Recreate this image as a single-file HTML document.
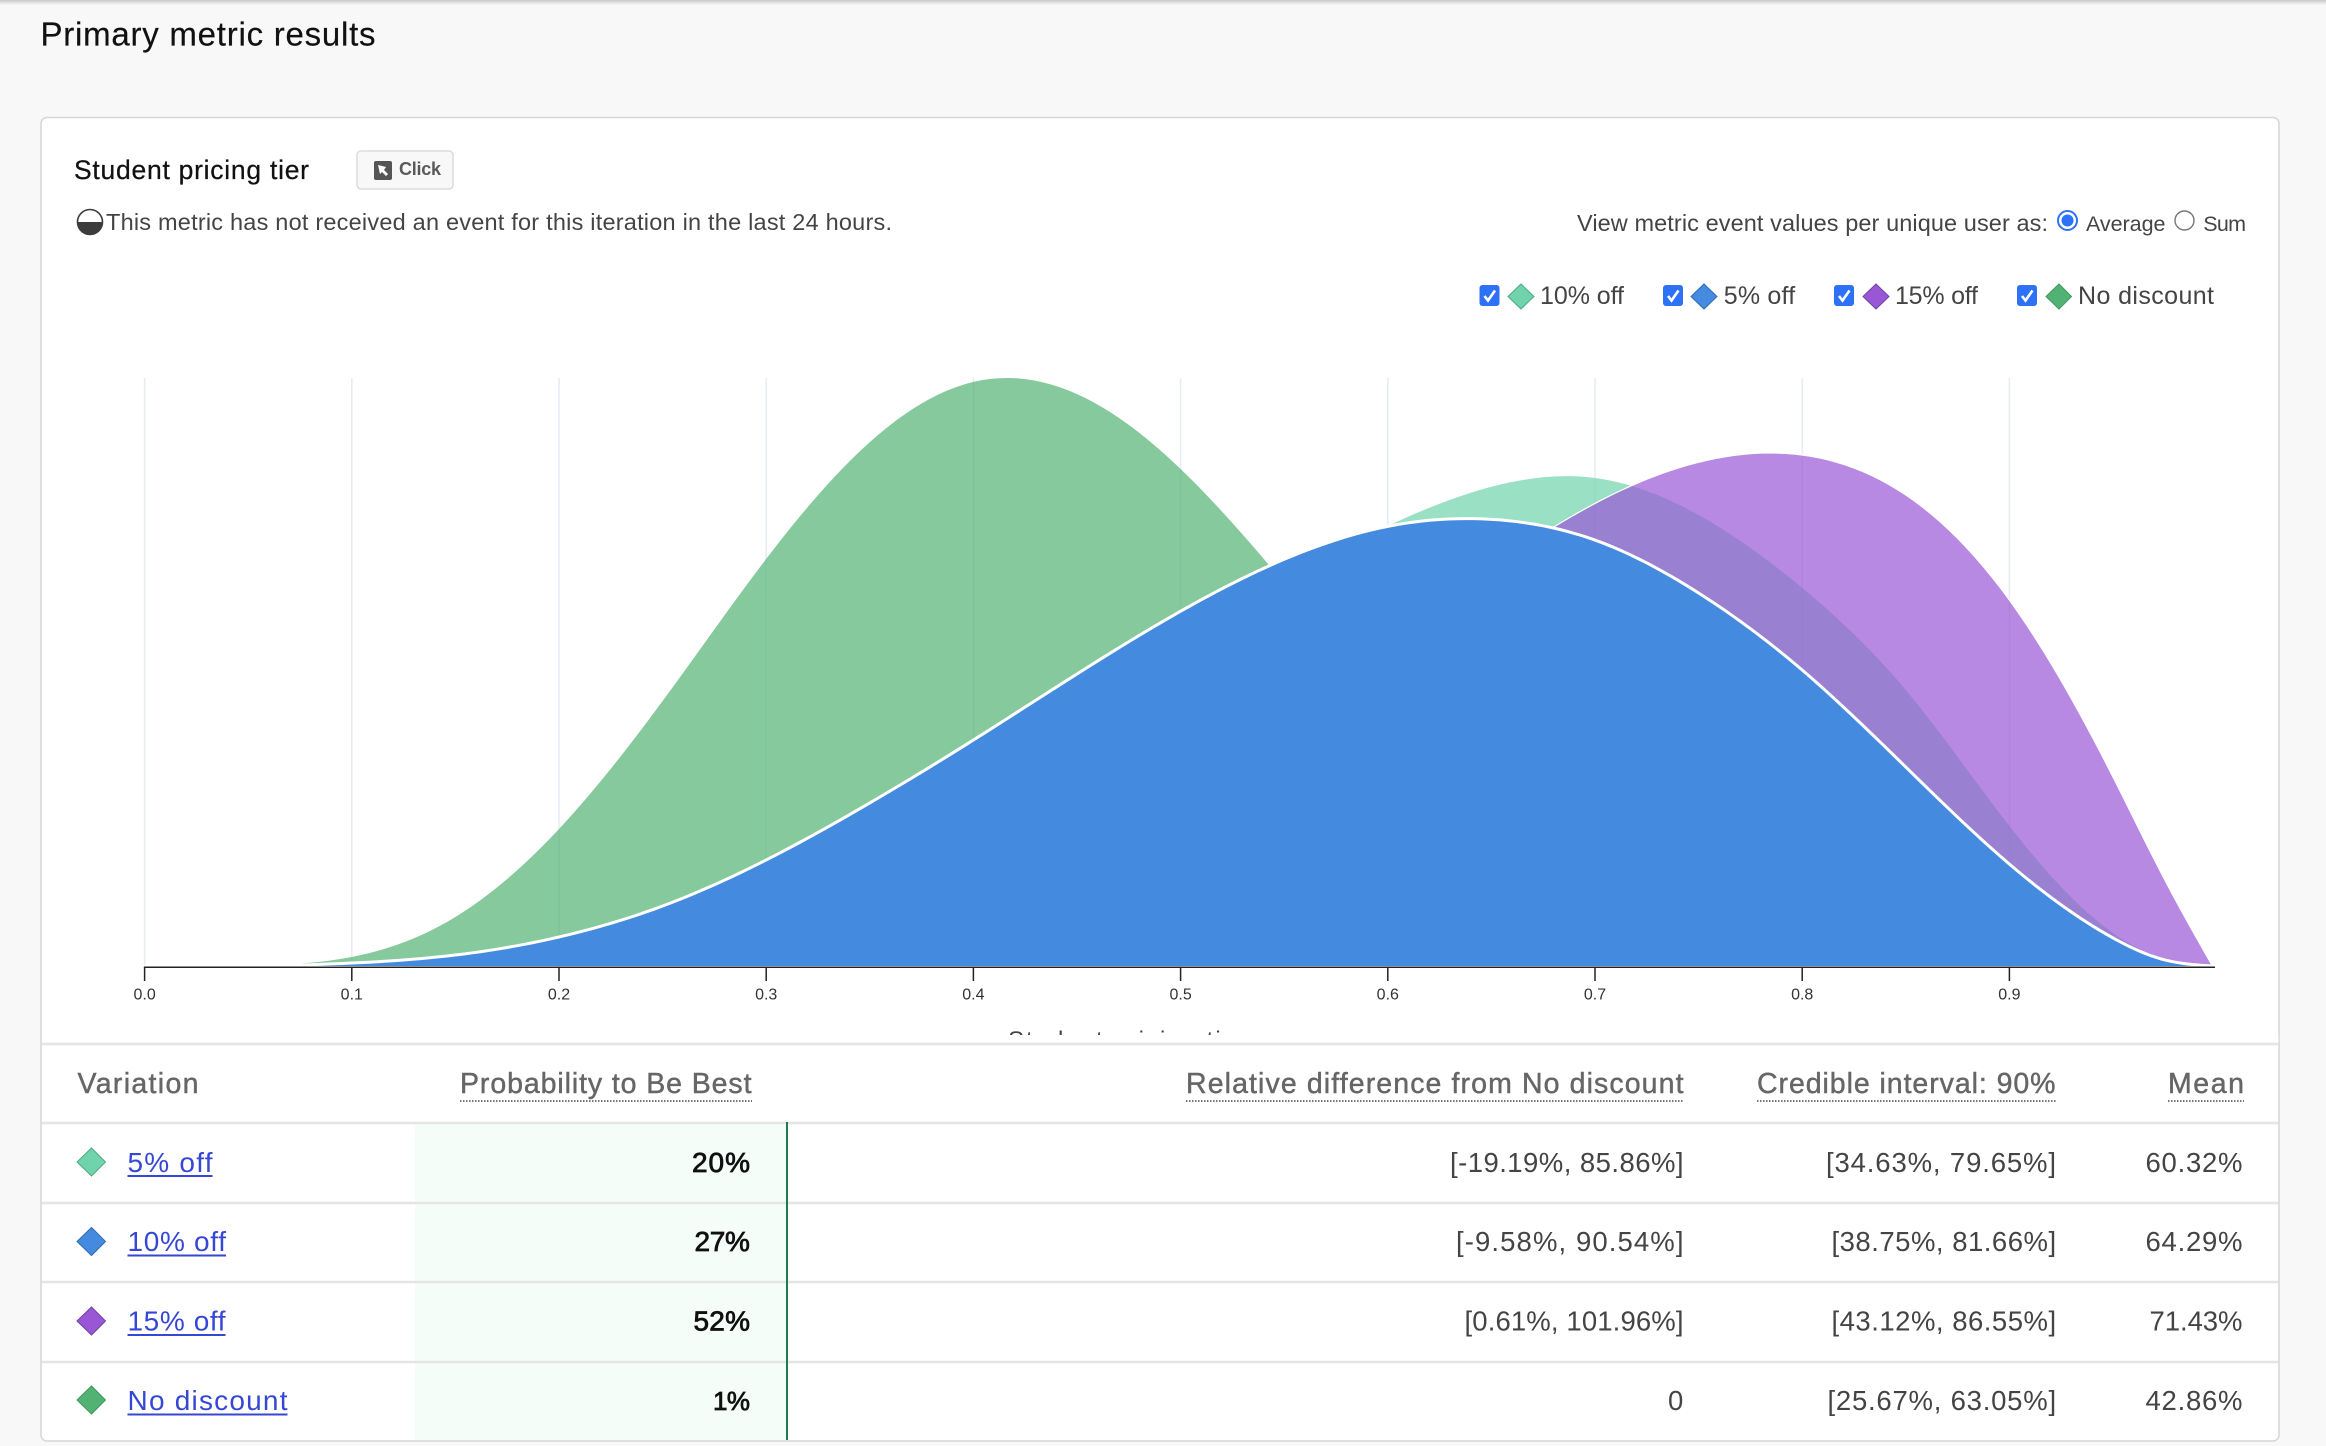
<!DOCTYPE html>
<html lang="en">
<head>
<meta charset="utf-8">
<title>Primary metric results</title>
<style>
html,body{margin:0;padding:0;background:#f8f8f8;width:2326px;height:1446px;overflow:hidden}
svg{display:block;font-family:"Liberation Sans",sans-serif}
.hd{font-size:28.5px;fill:#666;stroke:#666;stroke-width:.45}
.cell{font-size:27.5px;fill:#444}
.best{font-size:28px;fill:#111;stroke:#111;stroke-width:.8}
.link{font-size:28px;fill:#3647d6;cursor:pointer}
.leg{font-size:25px;fill:#444}
.msg{font-size:23.5px;fill:#444}
</style>
</head>
<body>
<svg id="page" xmlns="http://www.w3.org/2000/svg" width="2326" height="1446" viewBox="0 0 2326 1446">
  <defs>
    <linearGradient id="top-shade" x1="0" y1="0" x2="0" y2="1"><stop offset="0" stop-color="#c8c8c8"/><stop offset="1" stop-color="#f8f8f8"/></linearGradient>
    <clipPath id="axis-title-clip"><rect x="900" y="1000" width="500" height="35"/></clipPath>
  </defs>
  <rect width="2326" height="1446" fill="#f8f8f8"/>
  <rect width="2326" height="5" fill="url(#top-shade)"/>
  <text x="40.5" y="45.7" font-size="33" fill="#111" stroke="#111" stroke-width=".2" textLength="335">Primary metric results</text>

  <rect x="41" y="117.5" width="2238" height="1323.5" rx="6" fill="#fff" stroke="#d6d6d6" stroke-width="1.5"/>

  <text x="74" y="179" font-size="26.5" fill="#111" stroke="#111" stroke-width=".25" textLength="235">Student pricing tier</text>
  <g>
    <rect x="357" y="151" width="96" height="38" rx="4" fill="#f8f8f8" stroke="#dcdcdc" stroke-width="1.5"/>
    <rect x="374" y="161" width="18" height="19" rx="2" fill="#555"/>
    <polygon points="378,165 386,167 384,170 388,174 386,176 382,172 380,174" fill="#fff"/>
    <text x="399" y="175" font-size="18" font-weight="700" fill="#5a5a5a" textLength="42">Click</text>
  </g>
  <g>
    <circle cx="90" cy="222" r="12.5" fill="#fff" stroke="#3c3c3c" stroke-width="1.6"/>
    <path d="M77.5 222 H102.5 A12.5 12.5 0 0 1 77.5 222 Z" fill="#3c3c3c"/>
  </g>
  <text class="msg" x="106" y="230" textLength="786">This metric has not received an event for this iteration in the last 24 hours.</text>

  <text class="msg" x="1577" y="231" textLength="471">View metric event values per unique user as:</text>
  <g>
    <circle cx="2067.5" cy="220.5" r="9.5" fill="#fff" stroke="#2d72f6" stroke-width="2"/>
    <circle cx="2067.5" cy="220.5" r="6" fill="#2d72f6"/>
  </g>
  <text x="2086" y="231" font-size="21.5" fill="#444" textLength="79.5">Average</text>
  <circle cx="2184.5" cy="220.5" r="9.5" fill="#fff" stroke="#777" stroke-width="1.4"/>
  <text x="2203.3" y="231" font-size="21.5" fill="#444" textLength="42.7">Sum</text>

  <g>
    <g>
      <rect x="1479.500" y="285" width="20" height="21" rx="3" fill="#2d72f6"/>
      <path d="M1484.500 296 l3.500 4.500 l7 -10" fill="none" stroke="#fff" stroke-width="2.600"/>
      <polygon points="1521,284 1534,296.500 1521,309 1508,296.500" fill="#6fd3ac" stroke="#4fa988"/>
      <text class="leg" x="1540" y="304" textLength="84">10% off</text>
    </g>
    <g>
      <rect x="1663" y="285" width="20" height="21" rx="3" fill="#2d72f6"/>
      <path d="M1668 296 l3.500 4.500 l7 -10" fill="none" stroke="#fff" stroke-width="2.600"/>
      <polygon points="1704,284 1717,296.500 1704,309 1691,296.500" fill="#448ade" stroke="#2f6cb5"/>
      <text class="leg" x="1723.700" y="304" textLength="71.500">5% off</text>
    </g>
    <g>
      <rect x="1834" y="285" width="20" height="21" rx="3" fill="#2d72f6"/>
      <path d="M1839 296 l3.500 4.500 l7 -10" fill="none" stroke="#fff" stroke-width="2.600"/>
      <polygon points="1876,284 1889,296.500 1876,309 1863,296.500" fill="#9957d6" stroke="#7440a8"/>
      <text class="leg" x="1895" y="304" textLength="83">15% off</text>
    </g>
    <g>
      <rect x="2017" y="285" width="20" height="21" rx="3" fill="#2d72f6"/>
      <path d="M2022 296 l3.500 4.500 l7 -10" fill="none" stroke="#fff" stroke-width="2.600"/>
      <polygon points="2059,284 2071.500,296.500 2059,309 2046,296.500" fill="#52b274" stroke="#3f9a60"/>
      <text class="leg" x="2078" y="304" textLength="136">No discount</text>
    </g>
  </g>

  <g id="chart"></g>
  <text x="1008" y="1048" font-size="24" fill="#444" textLength="238" clip-path="url(#axis-title-clip)">Student pricing tier</text>

  <g>
    <rect x="42" y="1035" width="2236.500" height="8" fill="#fff"/>
    <rect x="415" y="1123" width="372" height="317" fill="#f5fdf9"/>
    <g stroke="#e5e5e5" stroke-width="2.500">
      <line x1="42" x2="2278" y1="1044" y2="1044"/>
      <line x1="42" x2="2278" y1="1123" y2="1123"/>
      <line x1="42" x2="2278" y1="1203" y2="1203"/>
      <line x1="42" x2="2278" y1="1282" y2="1282"/>
      <line x1="42" x2="2278" y1="1362" y2="1362"/>
    </g>
    <rect x="786" y="1122" width="2" height="318" fill="#1f7a4d"/>

    <text class="hd" x="77.500" y="1093" textLength="121">Variation</text>
    <g>
      <text class="hd" x="460" y="1093" textLength="291.500">Probability to Be Best</text>
      <line x1="460" x2="752" y1="1101" y2="1101" stroke="#777" stroke-width="2" stroke-dasharray="1.500 1.500"/>
    </g>
    <g>
      <text class="hd" x="1186" y="1093" textLength="497.500">Relative difference from No discount</text>
      <line x1="1186" x2="1684" y1="1101" y2="1101" stroke="#777" stroke-width="2" stroke-dasharray="1.500 1.500"/>
    </g>
    <g>
      <text class="hd" x="1757" y="1093" textLength="298.500">Credible interval: 90%</text>
      <line x1="1757" x2="2057" y1="1101" y2="1101" stroke="#777" stroke-width="2" stroke-dasharray="1.500 1.500"/>
    </g>
    <g>
      <text class="hd" x="2168" y="1093" textLength="76">Mean</text>
      <line x1="2168" x2="2244" y1="1101" y2="1101" stroke="#777" stroke-width="2" stroke-dasharray="1.500 1.500"/>
    </g>

    <g>
      <polygon points="91.500,1148 105.500,1162 91.500,1176 77,1162" fill="#6fd3ac" stroke="#4fa988"/>
      <text class="link" x="127.500" y="1172" textLength="85">5% off</text>
      <rect x="127.500" y="1175" width="85" height="2" fill="#3647d6"/>
      <text class="best" x="692" y="1172" textLength="58">20%</text>
      <text class="cell" x="1450" y="1172" textLength="233.500">[-19.19%, 85.86%]</text>
      <text class="cell" x="1826" y="1172" textLength="230">[34.63%, 79.65%]</text>
      <text class="cell" x="2145.500" y="1172" textLength="97">60.32%</text>
    </g>
    <g>
      <polygon points="91.500,1227.500 105.500,1241.500 91.500,1255.500 77,1241.500" fill="#448ade" stroke="#2f6cb5"/>
      <text class="link" x="127.500" y="1251" textLength="98.500">10% off</text>
      <rect x="127.500" y="1254.500" width="98.500" height="2" fill="#3647d6"/>
      <text class="best" x="694.500" y="1251" textLength="55.400">27%</text>
      <text class="cell" x="1456" y="1251" textLength="227.500">[-9.58%, 90.54%]</text>
      <text class="cell" x="1831.500" y="1251" textLength="224.600">[38.75%, 81.66%]</text>
      <text class="cell" x="2145.500" y="1251" textLength="97">64.29%</text>
    </g>
    <g>
      <polygon points="91.500,1307 105.500,1321 91.500,1335 77,1321" fill="#9957d6" stroke="#7440a8"/>
      <text class="link" x="127.500" y="1330.500" textLength="98">15% off</text>
      <rect x="127.500" y="1334" width="98" height="2" fill="#3647d6"/>
      <text class="best" x="693.500" y="1330.500" textLength="56.500">52%</text>
      <text class="cell" x="1464.500" y="1330.500" textLength="219">[0.61%, 101.96%]</text>
      <text class="cell" x="1831.500" y="1330.500" textLength="224.600">[43.12%, 86.55%]</text>
      <text class="cell" x="2149.500" y="1330.500" textLength="93">71.43%</text>
    </g>
    <g>
      <polygon points="91.500,1386 105.500,1400 91.500,1414 77,1400" fill="#52b274" stroke="#3f9a60"/>
      <text class="link" x="127.500" y="1410" textLength="160">No discount</text>
      <rect x="127.500" y="1413.500" width="160" height="2" fill="#3647d6"/>
      <text class="best" x="713" y="1410" style="font-size:26px" textLength="37">1%</text>
      <text class="cell" x="1668" y="1410" textLength="15.400">0</text>
      <text class="cell" x="1827.500" y="1410" textLength="228.600">[25.67%, 63.05%]</text>
      <text class="cell" x="2145.500" y="1410" textLength="97">42.86%</text>
    </g>
  </g>
</svg>

<script>
// Chart data: conversion rate grid and density values.
const conversionRates = [0, 0.05, 0.1, 0.15, 0.2, 0.25, 0.3, 0.35, 0.4, 0.45, 0.5, 0.55, 0.6, 0.65, 0.7, 0.75, 0.8, 0.85, 0.9, 0.95, 0.975, 0.998];
const noDiscountDensity = [0, 0.002, 0.046, 0.25, 0.699, 1.352, 2.077, 2.673, 2.98, 2.918, 2.536, 1.954, 1.327, 0.776, 0.383, 0.148, 0.046, 0.005, 0, 0, 0, 0];
const lightGreenDensity = [0, 0, 0.005, 0.031, 0.092, 0.214, 0.398, 0.638, 0.944, 1.276, 1.633, 1.964, 2.245, 2.445, 2.49, 2.301, 1.929, 1.408, 0.714, 0.168, 0.036, 0];
const purpleDensity = [0, 0, 0, 0.003, 0.015, 0.051, 0.128, 0.255, 0.434, 0.663, 0.944, 1.276, 1.65, 2.03, 2.36, 2.57, 2.607, 2.403, 1.867, 0.964, 0.439, 0];
const blueDensity = [0, 0, 0.015, 0.056, 0.148, 0.306, 0.541, 0.832, 1.153, 1.49, 1.81, 2.075, 2.243, 2.279, 2.173, 1.903, 1.51, 1.015, 0.52, 0.143, 0.031, 0];
const tickValues = [0, 0.1, 0.2, 0.3, 0.4, 0.5, 0.6, 0.7, 0.8, 0.9];
const tickLabels = ["0.0", "0.1", "0.2", "0.3", "0.4", "0.5", "0.6", "0.7", "0.8", "0.9"];

const NS = "http://www.w3.org/2000/svg";
const chart = document.getElementById("chart");
const baseY = 966;
const xScale = function (t) { return 144.6 + 2072 * t; };
const yScale = function (d) { return baseY - 196 * d; };

function make(tag, attrs) {
  const el = document.createElementNS(NS, tag);
  for (const k in attrs) el.setAttribute(k, attrs[k]);
  chart.appendChild(el);
  return el;
}

// Natural cubic spline through the read values, traced as a fine polyline.
function curve(values) {
  const xs = conversionRates, n = xs.length;
  const h = [], m = new Array(n).fill(0), c = new Array(n).fill(0), z = new Array(n).fill(0);
  for (let i = 0; i < n - 1; i++) h[i] = xs[i + 1] - xs[i];
  for (let i = 1; i < n - 1; i++) {
    const a = 3 * ((values[i + 1] - values[i]) / h[i] - (values[i] - values[i - 1]) / h[i - 1]);
    const l = 2 * (xs[i + 1] - xs[i - 1]) - h[i - 1] * c[i - 1];
    c[i] = h[i] / l;
    z[i] = (a - h[i - 1] * z[i - 1]) / l;
  }
  for (let j = n - 2; j >= 1; j--) m[j] = z[j] - c[j] * m[j + 1];
  let d = "M" + xScale(xs[0]).toFixed(2) + " " + yScale(values[0]).toFixed(2);
  for (let i = 0; i < n - 1; i++) {
    const b = (values[i + 1] - values[i]) / h[i] - h[i] * (m[i + 1] + 2 * m[i]) / 3;
    const e = (m[i + 1] - m[i]) / (3 * h[i]);
    for (let s = 1; s <= 12; s++) {
      const u = h[i] * s / 12;
      const v = Math.max(0, values[i] + b * u + m[i] * u * u + e * u * u * u);
      d += "L" + xScale(xs[i] + u).toFixed(2) + " " + yScale(v).toFixed(2);
    }
  }
  return d;
}

function drawSeries(name, values, fill, opacity, strokeWidth) {
  const line = curve(values);
  const area = make("path", { d: line + "L" + xScale(conversionRates[conversionRates.length - 1]) + " " + baseY + "L" + xScale(0) + " " + baseY + "Z", fill: fill, "fill-opacity": opacity });
  
  
  if (strokeWidth > 0) {
    const edge = make("path", { d: line, fill: "none", stroke: "#fff", "stroke-width": strokeWidth });
    
    
  }
}

tickValues.forEach(function (t) {
  const g = make("line", { x1: xScale(t), x2: xScale(t), y1: 378, y2: 967, stroke: "#e6ecf2", "stroke-width": 1.5 });
  
  
});

drawSeries("no-discount", noDiscountDensity, "#52b274", 0.7, 0);
drawSeries("light-green-variation", lightGreenDensity, "#6fd3ac", 0.7, 0);
drawSeries("purple-variation", purpleDensity, "#9957d6", 0.7, 1.2);
drawSeries("blue-variation", blueDensity, "#448ade", 1, 3);

const axis = make("line", { x1: xScale(0) - 0.7, x2: 2215, y1: 967.3, y2: 967.3, stroke: "#222", "stroke-width": 1.5 });



tickValues.forEach(function (t, i) {
  const mark = make("line", { x1: xScale(t), x2: xScale(t), y1: 967, y2: 981, stroke: "#222", "stroke-width": 1.5 });
  
  
  const label = make("text", { x: xScale(t), y: 999.5, "text-anchor": "middle", "font-size": 16, fill: "#333" });
  
  
  label.textContent = tickLabels[i];
});
</script>
</body>
</html>
